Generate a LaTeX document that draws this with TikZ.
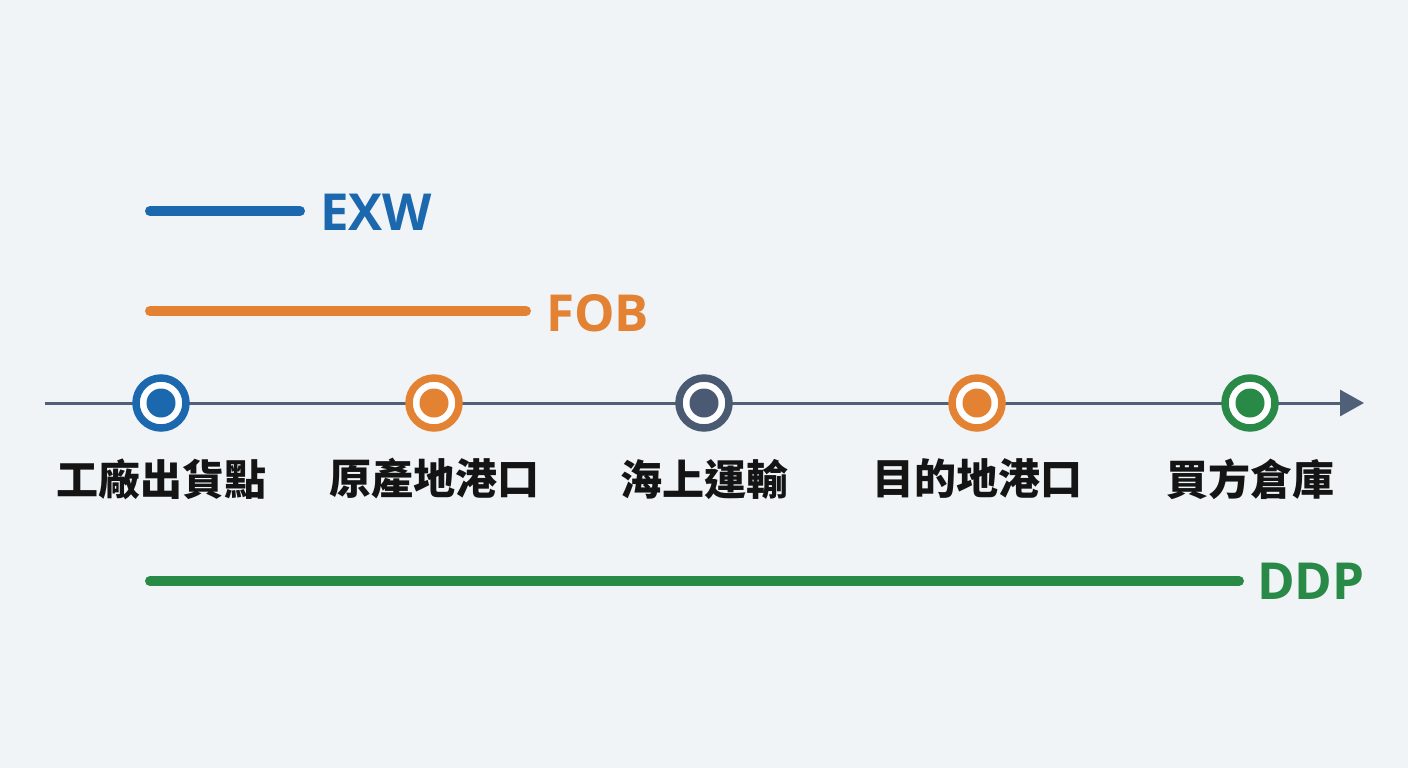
\documentclass[tikz,border=0pt]{standalone}
\usepackage{fontspec}
\setmainfont{Open Sans}
\newfontfamily\cjk{Noto Sans CJK TC}
\usetikzlibrary{arrows.meta}
\definecolor{bg}{RGB}{240,244,247}
\definecolor{cblue}{RGB}{28,104,174}
\definecolor{corange}{RGB}{228,130,52}
\definecolor{cslate}{RGB}{74,90,114}
\definecolor{cgreen}{RGB}{40,138,70}
\definecolor{caxis}{RGB}{80,96,120}
\definecolor{ctext}{RGB}{20,20,20}
\tikzset{
  axisline/.style={draw=caxis,line width=3pt,-{Triangle[length=24pt,width=26pt]}},
  ring/.style={circle,draw=#1,line width=7.5pt,fill=white,minimum size=50pt,inner sep=0pt},
  dot/.style={circle,fill=#1,minimum size=29pt,inner sep=0pt},
  stoplabel/.style={font=\cjk\bfseries\fontsize{42}{48}\selectfont,text=ctext,anchor=center,inner sep=0pt},
  termline/.style={draw=#1,line width=10pt,line cap=round},
  termtext/.style={font=\bfseries\fontsize{51}{58}\selectfont,text=#1,anchor=west,inner sep=0pt}
}
\begin{document}
\begin{tikzpicture}[x=1pt,y=-1pt]
\fill[bg] (0,0) rectangle (1408,768);
\useasboundingbox (0,0) rectangle (1408,768);
% axis
\coordinate (axS) at (45,403);
\coordinate (axE) at (1364,403);
\draw[axisline] (axS) -- (axE);
% stops
\node[ring=cblue] (n1) at (161,403) {};
\node[dot=cblue] (d1) at (n1) {};
\node[ring=corange] (n2) at (434,403) {};
\node[dot=corange] (d2) at (n2) {};
\node[ring=cslate] (n3) at (704,403) {};
\node[dot=cslate] (d3) at (n3) {};
\node[ring=corange] (n4) at (977,403) {};
\node[dot=corange] (d4) at (n4) {};
\node[ring=cgreen] (n5) at (1250,403) {};
\node[dot=cgreen] (d5) at (n5) {};
% labels
\node[stoplabel] (l1) at (161,479) {工廠出貨點};
\node[stoplabel] (l2) at (434,479) {原產地港口};
\node[stoplabel] (l3) at (704,479) {海上運輸};
\node[stoplabel] (l4) at (977,479) {目的地港口};
\node[stoplabel] (l5) at (1250,479) {買方倉庫};
% EXW
\coordinate (exwS) at (150,211);
\coordinate (exwE) at (300,211);
\draw[termline=cblue] (exwS) -- (exwE);
\node[termtext=cblue] (exw) at (320,212) {EXW};
% FOB
\coordinate (fobS) at (150,311);
\coordinate (fobE) at (526,311);
\draw[termline=corange] (fobS) -- (fobE);
\node[termtext=corange] (fob) at (546,313) {FOB};
% DDP
\coordinate (ddpS) at (150,581);
\coordinate (ddpE) at (1239,581);
\draw[termline=cgreen] (ddpS) -- (ddpE);
\node[termtext=cgreen] (ddp) at (1257,581) {DDP};
\end{tikzpicture}
\end{document}
